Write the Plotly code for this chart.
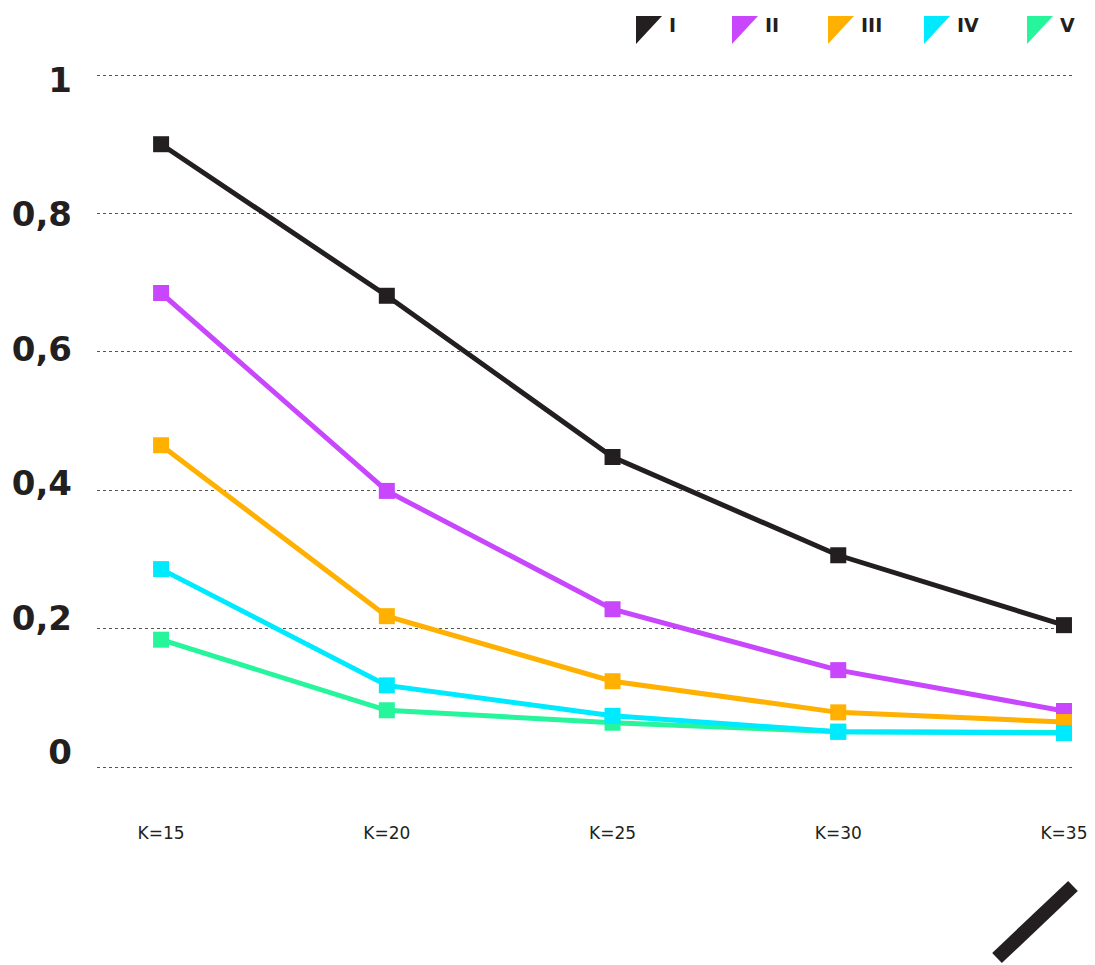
import plotly.graph_objects as go

categories = ["K=15", "K=20", "K=25", "K=30", "K=35"]
series_names = ["I", "II", "III", "IV", "V"]
s1 = [0.90, 0.681, 0.448, 0.306, 0.205]
s2 = [0.685, 0.399, 0.228, 0.140, 0.081]
s3 = [0.465, 0.218, 0.124, 0.079, 0.065]
s4 = [0.286, 0.118, 0.074, 0.051, 0.049]
s5 = [0.184, 0.082, 0.064, 0.051, 0.050]
colors = ["#231f20", "#c846fb", "#ffb000", "#00eaff", "#27f59c"]
y_ticks = [0, 0.2, 0.4, 0.6, 0.8, 1]
y_ticktext = ["0", "0,2", "0,4", "0,6", "0,8", "1"]

values = [s1, s2, s3, s4, s5]
fig = go.Figure()

# green first so the cyan squares sit on top of it
for i in [4, 0, 1, 2, 3]:
    fig.add_trace(go.Scatter(x=categories, y=values[i], mode="lines+markers", name=series_names[i],
                             line=dict(color=colors[i], width=5),
                             marker=dict(symbol="square", size=16, color=colors[i]),
                             showlegend=False, hoverinfo="skip"))

# carrier for the label axis
fig.add_trace(go.Scatter(x=[None], y=[None], yaxis="y2", showlegend=False, hoverinfo="skip"))

# plot area on screen: x 97..1073, y 60..810
def px(sx):
    return (sx - 97) / 976

def py(sy):
    return (810 - sy) / 750

# hand made legend with triangle swatches
shapes = []
annotations = []
legend_left = [636, 732, 828, 924, 1027]
for i, name in enumerate(series_names):
    L = legend_left[i]
    shapes.append(dict(type="path", xref="paper", yref="paper",
                       path=f"M{px(L)},{py(16)} L{px(L + 26)},{py(16)} L{px(L)},{py(44)} Z",
                       fillcolor=colors[i], line=dict(width=0)))
    annotations.append(dict(text=name, xref="paper", yref="paper", x=px(L + 31), y=py(25),
                            xanchor="left", yanchor="middle", showarrow=False,
                            font=dict(size=19, family="DejaVu Sans", weight="bold", color="#231f20")))

shapes.append(dict(type="line", xref="paper", yref="paper", x0=px(997), y0=py(958), x1=px(1073), y1=py(886),
                   line=dict(color="#231f20", width=14)))

fig.update_layout(
    width=1087, height=957,
    margin=dict(l=89, r=22, t=52, b=155),
    plot_bgcolor="white", paper_bgcolor="white",
    font=dict(family="DejaVu Sans", color="#231f20"),
    showlegend=False,
    xaxis=dict(range=[-0.284, 4.04], showgrid=False, zeroline=False, showline=False, automargin=False,
               ticks="", ticklabelstandoff=11, tickfont=dict(size=17)),
    yaxis=dict(range=[-0.0621, 1.0217], tickvals=y_ticks, showticklabels=False, automargin=False,
               showgrid=True, gridcolor="#555555", gridwidth=1, griddash="dot",
               zeroline=False, showline=False),
    yaxis2=dict(overlaying="y", side="left", range=[-0.0863, 1.0298], automargin=False,
                tickvals=y_ticks, ticktext=y_ticktext, showgrid=False, zeroline=False,
                showline=False, ticks="", ticklabelstandoff=24,
                tickfont=dict(size=34, family="DejaVu Sans", weight="bold")),
    shapes=shapes,
    annotations=annotations,
)

fig.write_html("out.html")
